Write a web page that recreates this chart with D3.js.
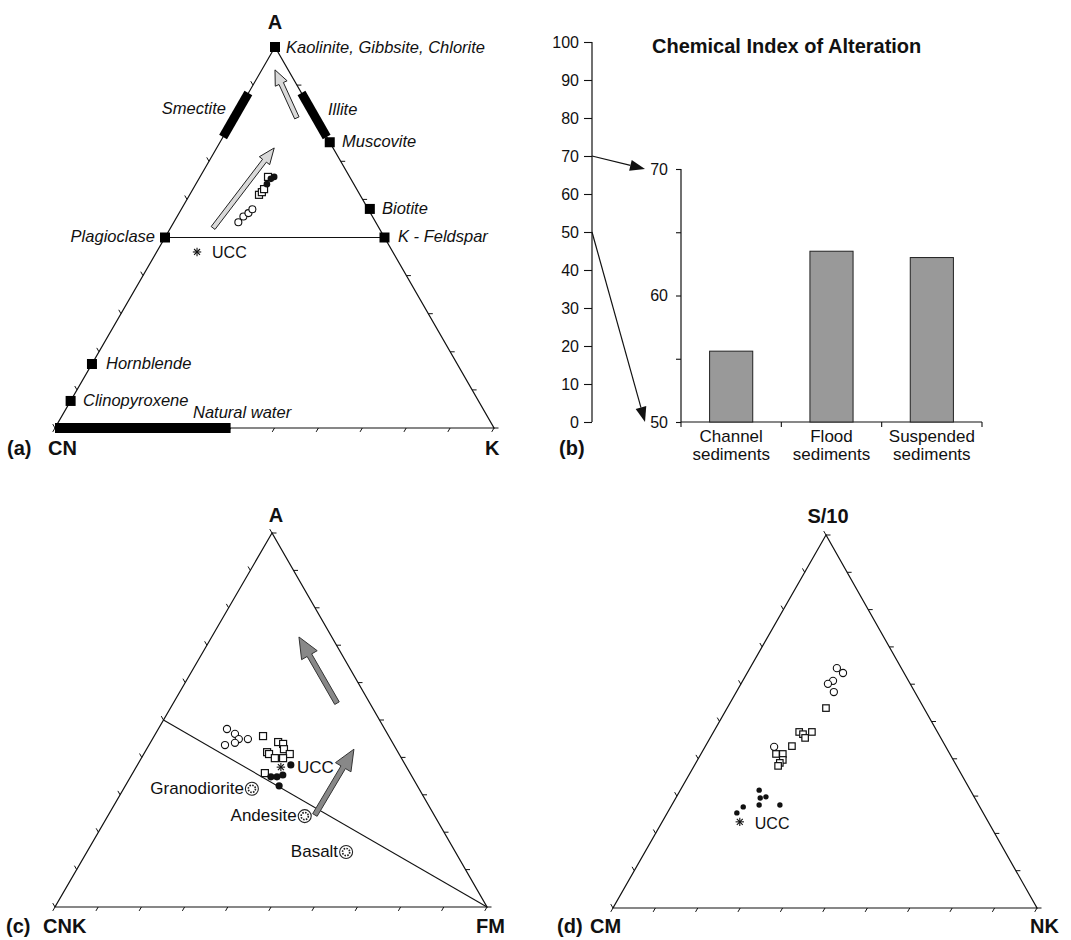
<!DOCTYPE html>
<html>
<head>
<meta charset="UTF-8">
<title>A-CN-K, CIA, A-CNK-FM and S/10-CM-NK diagrams</title>
<style>
  body { margin: 0; background: #fff; }
  text { font-family: "Liberation Sans", Arial, Helvetica, sans-serif; fill: #111; }
</style>
</head>
<body>
<svg id="fig" width="1071" height="940"></svg>
<script src="https://cdn.jsdelivr.net/npm/d3@7/dist/d3.min.js"></script>
<script>
// ---- data (ternary values are [top %, right %]; left = 100 - top - right) ----

// (a) A - CN - K
var aChannel = [[54.0, 14.7], [55.5, 15.1], [56.4, 15.8], [57.4, 16.2]];
var aFlood = [[61.2, 15.8], [61.9, 16.1], [62.7, 16.2], [65.9, 15.5]];
var aSuspended = [[64.0, 16.2], [65.9, 16.9], [65.4, 16.4]];
var aUCC = [46.2, 9.2];
var mineralNames = ["Kaolinite, Gibbsite, Chlorite", "Muscovite", "Biotite", "K - Feldspar", "Plagioclase", "Hornblende", "Clinopyroxene"];
var mineralValues = [[100, 0], [75, 25], [57.5, 42.9], [50, 50], [50, 0], [16.8, 0], [7.1, 0]];
var fieldNames = ["Smectite", "Illite", "Natural water"];
var fieldRanges = [[[76.4, 0], [87.9, 0]], [[76.4, 23.6], [87.9, 12.1]], [[0, 0], [0, 40]]];
var aTrends = [[[52.5, 9.7], [73.5, 13.1]], [[81.4, 14.3], [94.0, 3.0]]];

// (b) Chemical Index of Alteration
var ciaCategories = ["Channel sediments", "Flood sediments", "Suspended sediments"];
var ciaValues = [55.6, 63.5, 63.0];
var fullTicks = [0, 10, 20, 30, 40, 50, 60, 70, 80, 90, 100];
var zoomTicks = [50, 55, 60, 65, 70];
var zoomLabels = [50, 60, 70];

// (c) A - CNK - FM
var cChannel = [[47.6, 15.9], [46.3, 18.4], [44.9, 20.0], [44.9, 22.1], [43.3, 17.6], [43.9, 19.6]];
var cFlood = [[45.7, 25.2], [44.1, 29.5], [43.6, 30.9], [42.2, 31.8], [41.4, 28.3], [40.9, 29.0], [40.9, 33.8], [39.8, 30.9], [39.8, 32.8], [35.8, 30.6]];
var cSuspended = [[38.0, 35.5], [34.8, 32.5], [34.8, 33.9], [35.3, 35.0], [32.4, 35.6]];
var cUCC = [37.4, 33.5];
var rockNames = ["Granodiorite", "Andesite", "Basalt"];
var rockValues = [[31.6, 29.7], [24.3, 45.6], [14.7, 60.0]];
var cTrends = [[[54.5, 37.9], [72.2, 20.2]], [[24.6, 47.8], [42.2, 48.0]]];

// (d) S/10 - CM - NK
var dChannel = [[64.3, 20.5], [63.0, 22.6], [60.9, 21.3], [60.1, 20.5], [57.9, 23.0], [43.2, 16.3]];
var dFlood = [[53.6, 23.3], [47.2, 20.2], [46.6, 21.4], [47.2, 23.2], [45.6, 22.4], [43.4, 20.4], [41.3, 17.7], [41.3, 19.3], [39.7, 20.1], [38.9, 19.8], [38.1, 19.8]];
var dSuspended = [[31.6, 18.6], [29.5, 19.9], [29.8, 21.1], [27.6, 20.6], [27.6, 25.5], [27.1, 17.1], [25.5, 16.4]];
var dUCC = [23.1, 18.3];

var svg = d3.select("#fig");
svg.append("rect").attr("width", 1071).attr("height", 940).attr("fill", "#fff");

// ternary projection built from two linear scales
function ternary(T, L, R) {
  var x = d3.scaleLinear().domain([0, 100]).range([L[0], R[0]]);
  var y = d3.scaleLinear().domain([0, 100]).range([L[1], T[1]]);
  var skew = (T[0] - L[0]) / (R[0] - L[0]);
  return function (d) { return [x(d[1] + d[0] * skew), y(d[0])]; };
}

function drawFrame(g, p) {
  g.append("path")
    .attr("d", d3.line()([p([100, 0]), p([0, 0]), p([0, 100])]) + "Z")
    .attr("fill", "none").attr("stroke", "#111").attr("stroke-width", 1.2);
  var steps = d3.range(0, 101, 10), tl = 4.5;
  var ticks = [];
  steps.forEach(function (v) {
    var b = p([0, v]); ticks.push([b, [b[0] - 0.5 * tl, b[1] + 0.866 * tl]]);
    var r = p([v, 100 - v]); ticks.push([r, [r[0] + tl, r[1]]]);
    var l = p([v, 0]); ticks.push([l, [l[0] - 0.5 * tl, l[1] - 0.866 * tl]]);
  });
  g.selectAll(null).data(ticks).enter().append("line")
    .attr("x1", function (d) { return d[0][0]; }).attr("y1", function (d) { return d[0][1]; })
    .attr("x2", function (d) { return d[1][0]; }).attr("y2", function (d) { return d[1][1]; })
    .attr("stroke", "#111").attr("stroke-width", 1);
}

function openCircles(g, p, data, r) {
  g.selectAll(null).data(data).enter().append("circle")
    .attr("cx", function (d) { return p(d)[0]; }).attr("cy", function (d) { return p(d)[1]; })
    .attr("r", r).attr("fill", "#fff").attr("stroke", "#111").attr("stroke-width", 1.1);
}
function squares(g, p, data, s) {
  g.selectAll(null).data(data).enter().append("rect")
    .attr("x", function (d) { return p(d)[0] - s / 2; }).attr("y", function (d) { return p(d)[1] - s / 2; })
    .attr("width", s).attr("height", s).attr("fill", "#fff").attr("stroke", "#111").attr("stroke-width", 1.2);
}
function dots(g, p, data, r) {
  g.selectAll(null).data(data).enter().append("circle")
    .attr("cx", function (d) { return p(d)[0]; }).attr("cy", function (d) { return p(d)[1]; })
    .attr("r", r).attr("fill", "#111");
}
function asterisk(g, pt, r) {
  [0, 45, 90, 135].forEach(function (a) {
    var c = Math.cos(a * Math.PI / 180) * r, s = Math.sin(a * Math.PI / 180) * r;
    g.append("line").attr("x1", pt[0] - c).attr("y1", pt[1] - s).attr("x2", pt[0] + c).attr("y2", pt[1] + s)
      .attr("stroke", "#111").attr("stroke-width", 1.1);
  });
}
function arrowPoly(p0, p1, sw, hw, hl) {
  var dx = p1[0] - p0[0], dy = p1[1] - p0[1], len = Math.hypot(dx, dy);
  var ux = dx / len, uy = dy / len, nx = -uy, ny = ux;
  var bx = p1[0] - ux * hl, by = p1[1] - uy * hl;
  return [[p0[0] + nx * sw, p0[1] + ny * sw], [bx + nx * sw, by + ny * sw], [bx + nx * hw, by + ny * hw], p1,
    [bx - nx * hw, by - ny * hw], [bx - nx * sw, by - ny * sw], [p0[0] - nx * sw, p0[1] - ny * sw]];
}
function label(g, x, y, txt, opt) {
  opt = opt || {};
  return g.append("text").attr("x", x).attr("y", y).text(txt)
    .attr("font-size", opt.size || 16.5)
    .attr("font-weight", opt.bold ? "bold" : null)
    .attr("font-style", opt.italic ? "italic" : null)
    .attr("text-anchor", opt.anchor || "start");
}

// ================= (a) A-CN-K =================
var gA = svg.append("g");
var pA = ternary([275, 47], [55, 428], [494, 428]);
drawFrame(gA, pA);
// feldspar join
gA.append("line").attr("x1", pA(mineralValues[4])[0]).attr("y1", pA(mineralValues[4])[1])
  .attr("x2", pA(mineralValues[3])[0]).attr("y2", pA(mineralValues[3])[1])
  .attr("stroke", "#111").attr("stroke-width", 1.1);
// mineral fields
fieldRanges.forEach(function (f, i) {
  var a = pA(f[0]), b = pA(f[1]);
  gA.append("line").attr("x1", a[0]).attr("y1", a[1]).attr("x2", b[0]).attr("y2", b[1])
    .attr("stroke", "#000").attr("stroke-width", i === 2 ? 10 : 9);
});
// minerals
gA.selectAll(null).data(mineralValues).enter().append("rect")
  .attr("x", function (d) { return pA(d)[0] - 5; }).attr("y", function (d) { return pA(d)[1] - 5; })
  .attr("width", 10).attr("height", 10).attr("fill", "#000");
// trend arrows
aTrends.forEach(function (t, i) {
  gA.append("polygon")
    .attr("points", arrowPoly(pA(t[0]), pA(t[1]), 2.4, 6.5, i === 0 ? 16 : 15).join(" "))
    .attr("fill", "#d9d9d9").attr("stroke", "#222").attr("stroke-width", 1);
});
openCircles(gA, pA, aChannel, 3.5);
squares(gA, pA, aFlood, 7);
dots(gA, pA, aSuspended, 3.3);
asterisk(gA, pA(aUCC), 4.2);
label(gA, pA(aUCC)[0] + 15, pA(aUCC)[1] + 6, "UCC", { size: 16 });
// mineral labels
var mLab = [[286, 53, "start"], [342, 147, "start"], [382, 214, "start"], [398, 242, "start"], [155, 242, "end"], [106, 369, "start"], [83, 406, "start"]];
mineralNames.forEach(function (n, i) { label(gA, mLab[i][0], mLab[i][1], n, { italic: true, anchor: mLab[i][2] }); });
var fLab = [[226, 114, "end"], [328, 115, "start"], [193, 418, "start"]];
fieldNames.forEach(function (n, i) { label(gA, fLab[i][0], fLab[i][1], n, { italic: true, anchor: fLab[i][2] }); });
label(gA, 275, 29, "A", { bold: true, size: 20, anchor: "middle" });
label(gA, 7, 455, "(a)", { bold: true, size: 20 });
label(gA, 48, 455, "CN", { bold: true, size: 20 });
label(gA, 485, 455, "K", { bold: true, size: 20 });

// ================= (b) CIA bar chart =================
var gB = svg.append("g");
var yFull = d3.scaleLinear().domain([0, 100]).range([422, 42]);
var yZoom = d3.scaleLinear().domain([50, 70]).range([422, 169]);
var xBand = d3.scaleBand().domain(ciaCategories).range([681, 982]).paddingInner(0.57).paddingOuter(0.285);

var axL = gB.append("g").attr("transform", "translate(592,0)")
  .call(d3.axisLeft(yFull).tickValues(fullTicks).tickSize(8).tickPadding(5));
var axR = gB.append("g").attr("transform", "translate(681,0)")
  .call(d3.axisLeft(yZoom).tickValues(zoomTicks).tickSize(5).tickPadding(8)
    .tickFormat(function (d) { return zoomLabels.indexOf(d) >= 0 ? d : ""; }));
[axL, axR].forEach(function (ax) {
  ax.select(".domain").attr("stroke", "#111").attr("stroke-width", 1.2).attr("d", function () {
    var r = ax === axL ? yFull.range() : yZoom.range();
    return "M0," + r[0] + "V" + r[1];
  });
  ax.selectAll(".tick line").attr("stroke", "#111").attr("stroke-width", 1.1);
  ax.selectAll(".tick text").attr("font-size", 16).attr("fill", "#111")
    .attr("font-family", "'Liberation Sans', Arial, sans-serif");
});
// category baseline with band-edge ticks
gB.append("line").attr("x1", 681).attr("x2", 982).attr("y1", 422).attr("y2", 422)
  .attr("stroke", "#111").attr("stroke-width", 1.2);
var edges = ciaCategories.map(function (c) { return xBand(c) - xBand.step() * 0.285; }).concat([982]);
gB.selectAll(null).data(edges).enter().append("line")
  .attr("x1", function (d) { return d; }).attr("x2", function (d) { return d; })
  .attr("y1", 422).attr("y2", 427).attr("stroke", "#111").attr("stroke-width", 1.1);
gB.selectAll(null).data(ciaValues).enter().append("rect")
  .attr("x", function (d, i) { return xBand(ciaCategories[i]); })
  .attr("y", function (d) { return yZoom(d); })
  .attr("width", xBand.bandwidth())
  .attr("height", function (d) { return 422 - yZoom(d); })
  .attr("fill", "#999").attr("stroke", "#222").attr("stroke-width", 1);
ciaCategories.forEach(function (c) {
  var parts = c.split(" ");
  var t = gB.append("text").attr("text-anchor", "middle").attr("font-size", 17);
  t.append("tspan").attr("x", xBand(c) + xBand.bandwidth() / 2).attr("y", 442).text(parts[0]);
  t.append("tspan").attr("x", xBand(c) + xBand.bandwidth() / 2).attr("y", 460).text(parts[1]);
});
// zoom arrows
[[70, 70], [50, 50]].forEach(function (v) {
  var p0 = [592, yFull(v[0])], p1 = [645, yZoom(v[1])];
  var head = arrowPoly(p0, p1, 0, 5.5, 15);
  gB.append("line").attr("x1", p0[0]).attr("y1", p0[1]).attr("x2", head[1][0]).attr("y2", head[1][1])
    .attr("stroke", "#111").attr("stroke-width", 1.2);
  gB.append("polygon").attr("points", [head[2], head[3], head[4]].join(" ")).attr("fill", "#111");
});
label(gB, 652, 53, "Chemical Index of Alteration", { bold: true, size: 20 });
label(gB, 559, 455, "(b)", { bold: true, size: 20 });

// ================= (c) A-CNK-FM =================
var gC = svg.append("g");
var pC = ternary([272, 533], [55, 907], [487, 907]);
drawFrame(gC, pC);
var fj0 = pC([50, 0]), fj1 = pC([0, 100]);
gC.append("line").attr("x1", fj0[0]).attr("y1", fj0[1]).attr("x2", fj1[0]).attr("y2", fj1[1])
  .attr("stroke", "#111").attr("stroke-width", 1.1);
cTrends.forEach(function (t) {
  gC.append("polygon").attr("points", arrowPoly(pC(t[0]), pC(t[1]), 2.6, 9, 21).join(" "))
    .attr("fill", "#888").attr("stroke", "#333").attr("stroke-width", 1);
});
openCircles(gC, pC, cChannel, 3.6);
squares(gC, pC, cFlood, 7);
dots(gC, pC, cSuspended, 3.6);
asterisk(gC, pC(cUCC), 4.2);
label(gC, pC(cUCC)[0] + 16, pC(cUCC)[1] + 6, "UCC", { size: 17 });
rockValues.forEach(function (v, i) {
  var q = pC(v);
  gC.append("circle").attr("cx", q[0]).attr("cy", q[1]).attr("r", 6.5)
    .attr("fill", "#fff").attr("stroke", "#222").attr("stroke-width", 1.1);
  gC.append("circle").attr("cx", q[0]).attr("cy", q[1]).attr("r", 3.6)
    .attr("fill", "none").attr("stroke", "#222").attr("stroke-width", 1.6).attr("stroke-dasharray", "1.6,1.2");
  label(gC, q[0] - 8, q[1] + 5, rockNames[i], { size: 17, anchor: "end" });
});
label(gC, 276, 522, "A", { bold: true, size: 20, anchor: "middle" });
label(gC, 6, 933, "(c)", { bold: true, size: 20 });
label(gC, 43, 933, "CNK", { bold: true, size: 20 });
label(gC, 476, 933, "FM", { bold: true, size: 20 });

// ================= (d) S/10-CM-NK =================
var gD = svg.append("g");
var pD = ternary([826, 535], [613, 908], [1037, 908]);
drawFrame(gD, pD);
openCircles(gD, pD, dChannel, 3.6);
squares(gD, pD, dFlood, 6.5);
dots(gD, pD, dSuspended, 2.7);
asterisk(gD, pD(dUCC), 4.2);
label(gD, pD(dUCC)[0] + 15, pD(dUCC)[1] + 7, "UCC", { size: 16 });
label(gD, 828, 523, "S/10", { bold: true, size: 20, anchor: "middle" });
label(gD, 557, 933, "(d)", { bold: true, size: 20 });
label(gD, 590, 933, "CM", { bold: true, size: 20 });
label(gD, 1030, 933, "NK", { bold: true, size: 20 });
</script>
</body>
</html>
